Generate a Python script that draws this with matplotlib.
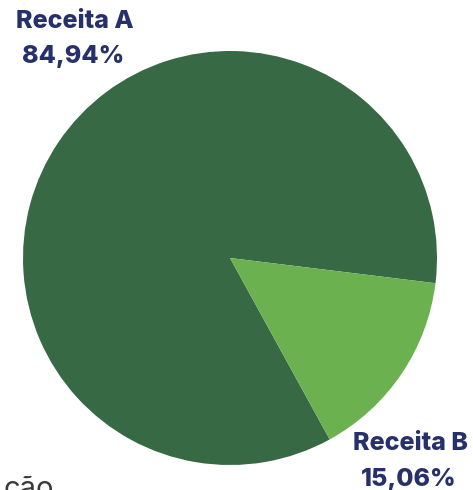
import matplotlib
matplotlib.use("Agg")
import matplotlib.pyplot as plt

labels = ["Receita A", "Receita B"]
values = [84.94, 15.06]
pct_labels = ["84,94%", "15,06%"]
colors = ["#366944", "#6cb14f"]

W, H = 473, 490
fig = plt.figure(figsize=(W / 100, H / 100), dpi=100)
ax = fig.add_axes([0, 0, 1, 1])
ax.pie(values, colors=colors, startangle=-7, counterclock=True,
       center=(230, H - 258), radius=207, frame=True,
       wedgeprops=dict(linewidth=0))
ax.set_xlim(0, W)
ax.set_ylim(0, H)
ax.set_aspect("equal")
ax.axis("off")

navy = "#26306a"
fp = dict(family=["Inter", "DejaVu Sans"], weight="heavy", color=navy,
          ha="center", va="center", fontsize=18)
ax.text(75, H - 22, f"{labels[0]}", **fp)
ax.text(73, H - 57, pct_labels[0], **fp)
ax.text(410, H - 443, f"{labels[1]}", **fp)
ax.text(409, H - 479, pct_labels[1], **fp)
ax.text(3, H - 476, "ção", family=["Inter", "DejaVu Sans"], fontsize=21,
        color="#3a3a3a", ha="left", va="top")

fig.savefig("out.png", dpi=100)
